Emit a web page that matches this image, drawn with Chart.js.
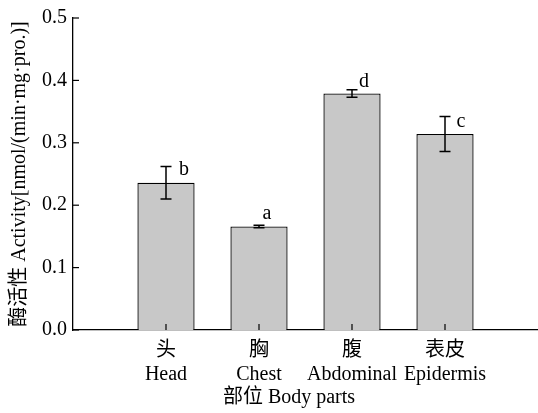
<!DOCTYPE html>
<html>
<head>
<meta charset="utf-8">
<script src="https://cdn.jsdelivr.net/npm/chart.js@4/dist/chart.umd.min.js"></script>
<style>
html,body{margin:0;padding:0;background:#fff;}
#wrap{width:538px;height:413px;position:relative;}
</style>
</head>
<body>
<div id="wrap"><canvas id="c" width="538" height="413"></canvas></div>
<script>
// ---- data ----
const categoriesZh = ['头', '胸', '腹', '表皮'];
const categoriesEn = ['Head', 'Chest', 'Abdominal', 'Epidermis'];
const activity = [0.236, 0.166, 0.379, 0.314];
const errors = [0.026, 0.002, 0.006, 0.028];
const sigLetters = ['b', 'a', 'd', 'c'];
const yTickValues = [0.0, 0.1, 0.2, 0.3, 0.4, 0.5];
const yTitle = '酶活性 Activity[nmol/(min·mg·pro.)]';
const xTitle = '部位 Body parts';

// ---- styling ----
const FONT = '"Liberation Serif", "Noto Sans CJK SC", serif';
const letterOffsets = [[18, 8], [8, -6], [12, -3], [16, 10]]; // px from bar centre / error-bar top (baseline)

const labels = [''].concat(categoriesZh.map((z, i) => [z, categoriesEn[i]])).concat(['']);
const values = [null].concat(activity).concat([null]);

const extras = {
  id: 'extras',
  afterDatasetsDraw(chart) {
    const ctx = chart.ctx;
    const xs = chart.scales.x, ys = chart.scales.y;
    ctx.save();
    ctx.strokeStyle = '#000';
    ctx.fillStyle = '#000';
    // error bars
    activity.forEach((v, i) => {
      const x = xs.getPixelForValue(i + 1);
      const yT = ys.getPixelForValue(v + errors[i]);
      const yB = ys.getPixelForValue(v - errors[i]);
      ctx.lineWidth = 1.5;
      ctx.beginPath();
      ctx.moveTo(x, yT); ctx.lineTo(x, yB);
      ctx.moveTo(x - 5.5, yT); ctx.lineTo(x + 5.5, yT);
      ctx.moveTo(x - 5.5, yB); ctx.lineTo(x + 5.5, yB);
      ctx.stroke();
      // letters
      ctx.font = '20px ' + FONT;
      ctx.textAlign = 'center';
      ctx.textBaseline = 'alphabetic';
      ctx.fillText(sigLetters[i], x + letterOffsets[i][0], yT + letterOffsets[i][1]);
    });
    // inward ticks on x axis
    ctx.lineWidth = 1.2;
    const yb = chart.chartArea.bottom;
    activity.forEach((v, i) => {
      const x = xs.getPixelForValue(i + 1);
      ctx.beginPath(); ctx.moveTo(x, yb); ctx.lineTo(x, yb - 6); ctx.stroke();
    });
    // inward ticks on y axis
    const xl = chart.chartArea.left;
    yTickValues.forEach(t => {
      const y = ys.getPixelForValue(t);
      ctx.beginPath(); ctx.moveTo(xl, y); ctx.lineTo(xl + 6, y); ctx.stroke();
    });
    // x axis title
    ctx.font = '20px ' + FONT;
    ctx.textAlign = 'center';
    ctx.textBaseline = 'middle';
    ctx.fillText(xTitle, 289, 398);
    ctx.restore();
  }
};

new Chart(document.getElementById('c'), {
  type: 'bar',
  data: {
    labels: labels,
    datasets: [{
      data: values,
      backgroundColor: '#c8c8c8',
      borderColor: '#000',
      borderWidth: 1.3,
      categoryPercentage: 1,
      barPercentage: 0.615
    }]
  },
  options: {
    responsive: false,
    animation: false,
    devicePixelRatio: 1,
    layout: { padding: { left: 0, right: 0, top: 8, bottom: 17 } },
    plugins: { legend: { display: false }, tooltip: { enabled: false } },
    scales: {
      x: {
        offset: false,
        grid: { display: false, drawTicks: false },
        border: { display: true, color: '#000', width: 1.3 },
        afterFit(scale) { scale.paddingRight = 0; },
        ticks: {
          autoSkip: false, maxRotation: 0, padding: 9,
          color: '#000', font: { family: FONT, size: 20, lineHeight: 1.2 }
        }
      },
      y: {
        min: 0, max: 0.5,
        grid: { display: false, drawTicks: false },
        border: { display: true, color: '#000', width: 1.3 },
        afterBuildTicks(scale) { scale.ticks = yTickValues.map(v => ({ value: v })); },
        ticks: {
          padding: 6, color: '#000',
          font: { family: FONT, size: 20 },
          callback: v => Number(v).toFixed(1)
        },
        title: {
          display: true, text: yTitle, color: '#000',
          font: { family: FONT, size: 20 },
          padding: { top: 8, bottom: 4 }
        }
      }
    }
  },
  plugins: [extras]
});
</script>
</body>
</html>
